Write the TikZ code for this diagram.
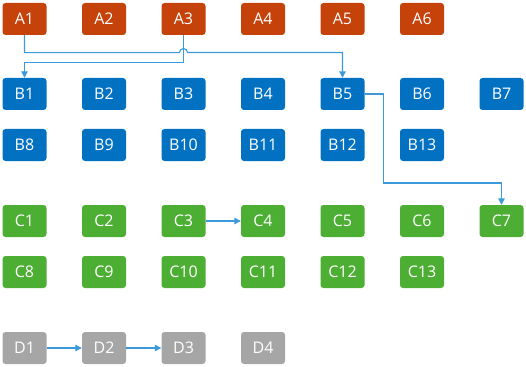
\documentclass[tikz,border=0pt]{standalone}
\usepackage{fontspec}
\setmainfont{Open Sans}
\usetikzlibrary{arrows.meta}
\definecolor{cA}{HTML}{C5420B}
\definecolor{cB}{HTML}{0271C1}
\definecolor{cC}{HTML}{4DAE34}
\definecolor{cD}{HTML}{A6A6A6}
\definecolor{cL}{HTML}{3C9ADA}
\begin{document}
\begin{tikzpicture}[x=1pt,y=-1pt,
  box/.style={rounded corners=3pt,minimum width=44pt,minimum height=32pt,inner sep=0pt,text=white,font=\fontsize{16}{18}\selectfont},
  boxA/.style={box,fill=cA},
  boxB/.style={box,fill=cB},
  boxC/.style={box,fill=cC},
  boxD/.style={box,fill=cD},
  conn/.style={draw=cL,line width=1.1pt,-{Triangle[length=6.5pt,width=6.5pt]}}]
\useasboundingbox (0,0) rectangle (526,366);
\foreach \i in {1,...,6}{\node[boxA] (A\i) at ({24.5+79.5*(\i-1)},19) {A\i};}
\foreach \i in {1,...,7}{\node[boxB] (B\i) at ({24.5+79.5*(\i-1)},94) {B\i};}
\foreach \i in {8,...,13}{\node[boxB] (B\i) at ({24.5+79.5*(\i-8)},145) {B\i};}
\foreach \i in {1,...,7}{\node[boxC] (C\i) at ({24.5+79.5*(\i-1)},221) {C\i};}
\foreach \i in {8,...,13}{\node[boxC] (C\i) at ({24.5+79.5*(\i-8)},272) {C\i};}
\foreach \i in {1,...,4}{\node[boxD] (D\i) at ({24.5+79.5*(\i-1)},348) {D\i};}
% A1 -> B5 with hop over A3 line
\draw[conn] (A1.south) -- ++(0,17.5) -| ([xshift=-4pt]A3.south |- 0,52.5) arc[start angle=180,end angle=0,radius=4pt] -| (B5.north);
% A3 -> B1
\draw[conn] (A3.south) -- ++(0,27.5) -| (B1.north);
% B5 -> C7
\coordinate (bt) at ([xshift=18.5pt]B5.east);
\coordinate (bb) at (bt |- 0,183);
\draw[conn] (B5.east) -- (bt) -- (bb) -| (C7.north);
\draw[conn] (C3.east) -- (C4.west);
\draw[conn] (D1.east) -- (D2.west);
\draw[conn] (D2.east) -- (D3.west);
\end{tikzpicture}
\end{document}
